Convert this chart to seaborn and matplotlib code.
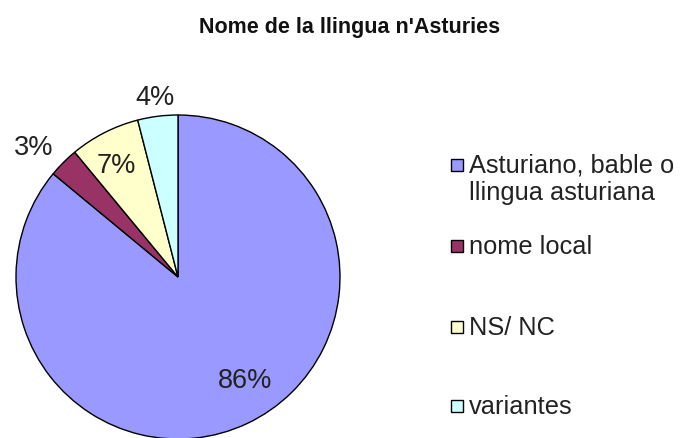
import numpy as np
import matplotlib
matplotlib.use("Agg")
import matplotlib.pyplot as plt
from matplotlib.patches import Rectangle
import seaborn as sns

categories = ["Asturiano, bable o\nllingua asturiana", "nome local", "NS/ NC", "variantes"]
values = [86, 3, 7, 4]
pct_labels = ["86%", "3%", "7%", "4%"]
colors = ["#9999FF", "#993366", "#FFFFCC", "#CCFFFF"]
title = "Nome de la llingua n'Asturies"

sns.set_theme(style="white")
plt.rcParams['font.family'] = ['Liberation Sans', 'DejaVu Sans']

W, H = 681, 439
fig = plt.figure(figsize=(W / 100, H / 100), dpi=100)
fig.patch.set_facecolor("white")

cx, cy, r = 178, 278, 162
ax = fig.add_axes([(cx - r) / W, (H - cy - r) / H, 2 * r / W, 2 * r / H])
wedges, _ = ax.pie(values, colors=sns.color_palette(colors), startangle=90,
                   counterclock=False,
                   wedgeprops=dict(edgecolor="black", linewidth=1.0))
ax.set_xlim(-1.0, 1.0)
ax.set_ylim(-1.0, 1.0)
ax.set_aspect("equal")
ax.axis("off")

label_r = [0.76, 1.20, 0.79, 1.12]
angle_off = [8, 3, 2, 0]
for w, lab, lr, off in zip(wedges, pct_labels, label_r, angle_off):
    ang = np.deg2rad((w.theta1 + w.theta2) / 2 + off)
    ax.text(lr * np.cos(ang), lr * np.sin(ang), lab, ha="center", va="center",
            fontsize=19.5, color="#222222", clip_on=False)

fig.text(350 / W, 1 - 27 / H, title, ha="center", va="center",
         fontsize=15.5, fontweight="bold", color="#111111")

# legend
leg_y = [166, 247, 328, 407]
sq = 12
for cat, col, y in zip(categories, colors, leg_y):
    fig.add_artist(Rectangle((451 / W, 1 - (y + sq / 2) / H), sq / W, sq / H,
                             transform=fig.transFigure, facecolor=col,
                             edgecolor="black", linewidth=1.0))
    lines = cat.split("\n")
    for i, ln in enumerate(lines):
        fig.text(469 / W, 1 - (y + i * 27) / H, ln, ha="left", va="center",
                 fontsize=18.3, color="#222222")

fig.savefig("out.png", dpi=100)
